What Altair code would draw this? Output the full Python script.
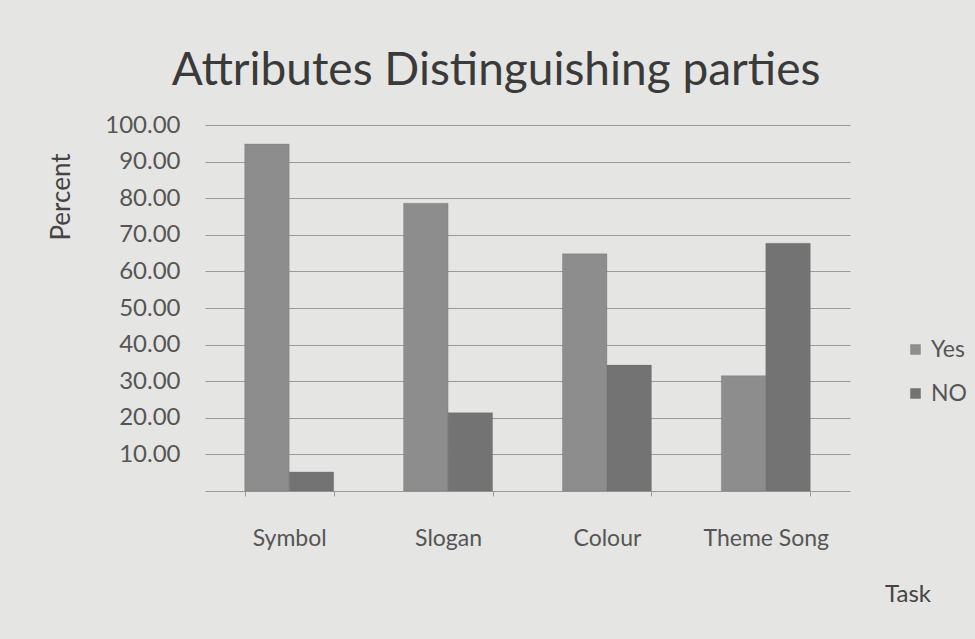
import altair as alt
import pandas as pd

# Survey results: share of respondents who say each attribute distinguishes parties
categories = ["Symbol", "Slogan", "Colour", "Theme Song"]
yes_values = [94.8, 78.6, 64.8, 31.5]
no_values = [5.2, 21.4, 34.4, 67.7]
series = ["Yes", "NO"]
y_ticks = [10, 20, 30, 40, 50, 60, 70, 80, 90, 100]

rows = []
for cat, y, n in zip(categories, yes_values, no_values):
    rows.append({"Task": cat, "Answer": "Yes", "Percent": y})
    rows.append({"Task": cat, "Answer": "NO", "Percent": n})
df = pd.DataFrame(rows)

FONT = "Lato"
W, H = 645, 366

bars = alt.Chart(df).mark_bar(stroke="#6a6a6a", strokeWidth=0.6, strokeOpacity=0.5).encode(
    x=alt.X(
        "Task:N",
        sort=categories,
        scale=alt.Scale(paddingInner=0.44, paddingOuter=0.25),
        axis=alt.Axis(
            title=None, labelAngle=0, labelFontSize=23, labelColor="#555555",
            labelFont=FONT, labelPadding=31, domainColor="#9a9a9a",
            tickColor="#9a9a9a", tickSize=5, tickBand="extent", grid=False,
        ),
    ),
    xOffset=alt.XOffset("Answer:N", sort=series),
    y=alt.Y(
        "Percent:Q",
        scale=alt.Scale(domain=[0, 100], nice=False),
        axis=alt.Axis(
            title=None, values=y_ticks, format=".2f", labelFontSize=24,
            labelColor="#555555", labelFont=FONT, labelPadding=25,
            domain=False, ticks=False, gridColor="#9a9a9a", gridWidth=1.2,
        ),
    ),
    color=alt.Color(
        "Answer:N",
        sort=series,
        scale=alt.Scale(domain=series, range=["#8d8d8d", "#737373"]),
        legend=alt.Legend(
            title=None, orient="none", legendX=699, legendY=213,
            symbolType="square", symbolSize=110, labelFontSize=23,
            labelFont=FONT, labelColor="#555555", rowPadding=20,
            labelOffset=4, symbolStrokeWidth=0,
        ),
    ),
)

label_base = alt.Chart(pd.DataFrame({"t": [0]}))

title = label_base.mark_text(
    text="Attributes Distinguishing parties", font=FONT, fontSize=46,
    color="#3a3a3a", baseline="alphabetic", align="center",
).encode(x=alt.value(291), y=alt.value(-40))

y_title = label_base.mark_text(
    text="Percent", font=FONT, fontSize=26, color="#444444",
    angle=270, align="center", baseline="middle",
).encode(x=alt.value(-143), y=alt.value(72))

x_title = label_base.mark_text(
    text="Task", font=FONT, fontSize=24, color="#444444",
    align="center", baseline="middle",
).encode(x=alt.value(703), y=alt.value(470))

chart = (
    alt.layer(bars, title, y_title, x_title)
    .properties(
        width=W, height=H,
        autosize=alt.AutoSizeParams(type="none"),
        padding={"left": 205, "top": 125, "right": 125, "bottom": 148},
        background="#e5e5e3",
    )
    .configure_view(stroke=None)
)

chart.save("out.html", embed_options={"renderer": "svg", "actions": False})
